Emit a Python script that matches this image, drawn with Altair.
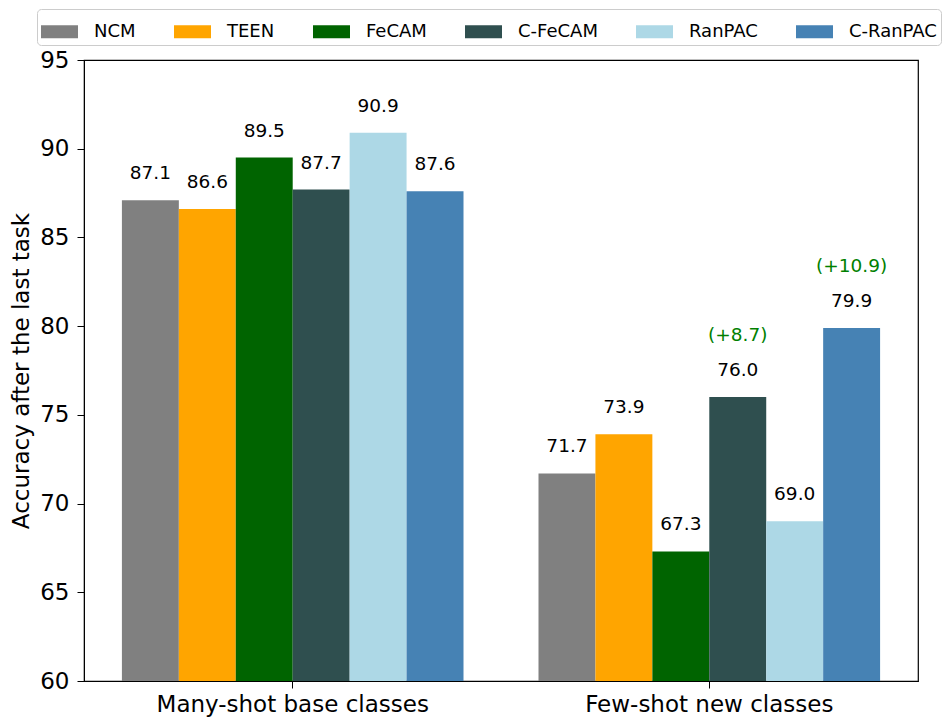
import altair as alt
import pandas as pd

groups = ["Many-shot base classes", "Few-shot new classes"]
methods = ["NCM", "TEEN", "FeCAM", "C-FeCAM", "RanPAC", "C-RanPAC"]
colors = ["#808080", "#FFA500", "#006400", "#2F4F4F", "#ADD8E6", "#4682B4"]
many_shot = [87.1, 86.6, 89.5, 87.7, 90.9, 87.6]
few_shot = [71.7, 73.9, 67.3, 76.0, 69.0, 79.9]
gains = {("Few-shot new classes", "C-FeCAM"): "(+8.7)",
         ("Few-shot new classes", "C-RanPAC"): "(+10.9)"}

rows = []
for g, vals in zip(groups, [many_shot, few_shot]):
    for m, v in zip(methods, vals):
        rows.append({"group": g, "method": m, "acc": v,
                     "label": f"{v:.1f}", "gain": gains.get((g, m), "")})
df = pd.DataFrame(rows)

FONT = "DejaVu Sans"

x = alt.X("group:N", sort=groups, title=None,
          scale=alt.Scale(paddingInner=0.18, paddingOuter=0.091),
          axis=alt.Axis(labelAngle=0, labelFontSize=23, labelColor="black",
                        tickSize=7, tickColor="black", domainColor="black",
                        labelPadding=5, labelFont=FONT, labelLimit=0))
xo = alt.XOffset("method:N", sort=methods, scale=alt.Scale(paddingInner=0, paddingOuter=0))
y = alt.Y("acc:Q", title="Accuracy after the last task",
          scale=alt.Scale(domain=[60, 95], nice=False, clamp=True),
          axis=alt.Axis(values=list(range(60, 96, 5)), grid=False, labelFontSize=23,
                        labelColor="black", tickSize=7, tickColor="black",
                        domainColor="black", labelPadding=8, titleFontSize=23,
                        titleFontWeight="normal", titleColor="black", titlePadding=6,
                        labelFont=FONT, titleFont=FONT))

base = alt.Chart(df).encode(x=x, xOffset=xo)

bars = base.mark_bar().encode(
    y=y,
    y2=alt.datum(60),
    color=alt.Color("method:N", sort=methods,
                    scale=alt.Scale(domain=methods, range=colors),
                    legend=alt.Legend(
                        title=None, orient="none", direction="horizontal",
                        columns=6, legendX=-47, legendY=-51,
                        symbolType="M-1,-0.35L1,-0.35L1,0.35L-1,0.35Z",
                        symbolSize=1369, symbolStrokeWidth=0, symbolOpacity=1,
                        labelFontSize=18, labelFont=FONT, labelColor="black",
                        labelOffset=16, columnPadding=38,
                        fillColor="white", strokeColor="#cccccc", cornerRadius=4,
                        padding=4)),
)

labels = base.mark_text(baseline="alphabetic", dy=-21, fontSize=18.5, font=FONT,
                        color="black").encode(y="acc:Q", text="label:N")

gain_text = base.transform_filter(alt.datum.gain != "").mark_text(
    baseline="alphabetic", dy=-56, fontSize=18.5, font=FONT, color="#008000"
).encode(y="acc:Q", text="gain:N")

chart = alt.layer(bars, labels, gain_text).properties(
    width=834, height=621,
    autosize=alt.AutoSizeParams(type="none"),
    padding={"left": 76, "top": 52, "right": 26, "bottom": 42},
).configure(background="white").configure_view(stroke="black", strokeWidth=1.2)

chart.save("out.html", embed_options={"renderer": "svg", "actions": False})
